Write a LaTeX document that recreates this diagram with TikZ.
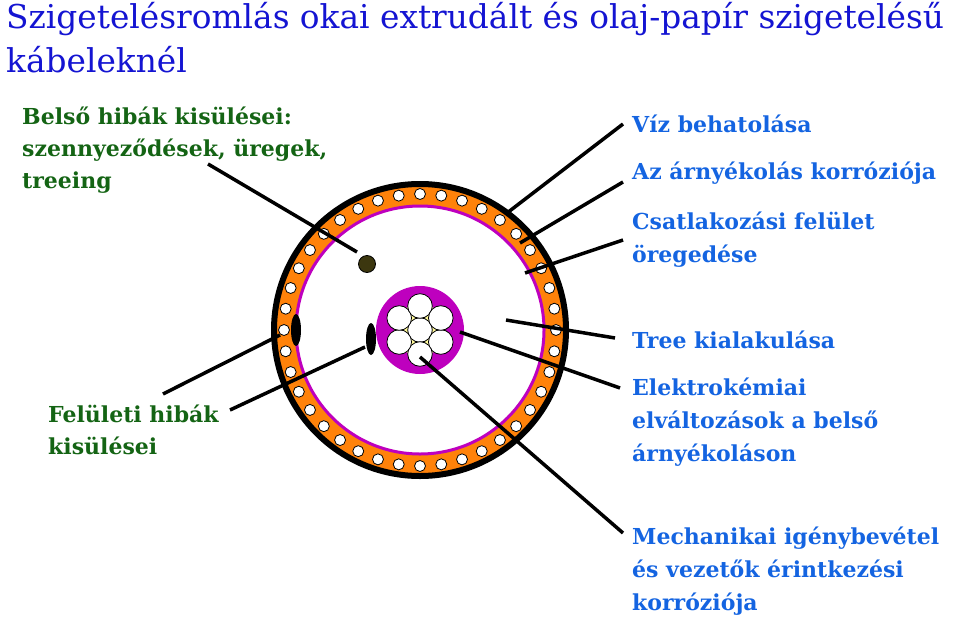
\documentclass[tikz,border=0pt]{standalone}
\usepackage{fontspec}
\setmainfont{DejaVu Serif}
\usetikzlibrary{positioning,calc}
\definecolor{titleblue}{RGB}{20,20,210}
\definecolor{labelblue}{RGB}{20,100,225}
\definecolor{labelgreen}{RGB}{20,100,20}
\definecolor{sheath}{RGB}{255,130,10}
\definecolor{screen}{RGB}{190,0,190}
\definecolor{dirt}{RGB}{60,55,15}
\tikzset{
  blabel/.style={anchor=west,inner sep=0pt,align=left,text=labelblue,
    font=\fontsize{22}{33}\selectfont\bfseries},
  glabel/.style={anchor=west,inner sep=0pt,align=left,text=labelgreen,
    font=\fontsize{22}{32}\selectfont\bfseries},
  pointer/.style={line width=3.5pt,black}
}
\begin{document}
\begin{tikzpicture}[x=1pt,y=-1pt]
  \useasboundingbox (0,0) rectangle (960,621);
  \pgfmathsetmacro\rstep{24}   % strand spacing

% title
  \node[anchor=north west,inner sep=0pt,align=left,text=titleblue,
        font=\fontsize{32.8}{44}\selectfont] (title) at (6,2)
        {Szigetelésromlás okai extrudált és olaj-papír szigetelésű\\kábeleknél};

% cable cross-section
  \coordinate (c) at (420,330);
  \fill[sheath] (c) circle (147);
  \draw[line width=6pt] (c) circle (146);
  \fill[white] (c) circle (124);
  \draw[screen,line width=3pt] (c) circle (124);
  \foreach \a in {0,9,...,351}
    \draw[fill=white,line width=0.8pt] ($(c)+(\a:136)$) circle (5.5);
  \fill[screen] (c) circle (44);
  \fill[yellow!40] (c) circle (26);
  \draw[fill=white,line width=0.8pt] (c) circle (12.3);
  \foreach \a in {30,90,...,330}
    \draw[fill=white,line width=0.8pt] ($(c)+(\a:\rstep)$) circle (12.3);

% faults
  \draw[fill=dirt,line width=0.8pt] (367,264) circle (8.5);
  \fill (296,330) ellipse (5 and 16);
  \fill (371,339) ellipse (5 and 16);

% labels at left
  \node[glabel] (inner) at (22,150) {Belső hibák kisülései:\\szennyeződések, üregek,\\treeing};
  \node[glabel] (surface) at (48,430) {Felületi hibák\\kisülései};

% labels at right
  \node[blabel] (water) at (632,124) {Víz behatolása};
  \node[blabel] (corr) at (632,173) {Az árnyékolás korróziója};
  \node[blabel] (iface) at (632,240) {Csatlakozási felület\\öregedése};
  \node[blabel] (tree) at (632,340) {Tree kialakulása};
  \node[blabel] (electro) at (632,422) {Elektrokémiai\\elváltozások a belső\\árnyékoláson};
  \node[blabel] (mech) at (632,571) {Mechanikai igénybevétel\\és vezetők érintkezési\\korróziója};

% pointers
  \coordinate (p1) at (208,164);  \coordinate (q1) at (357,252);
  \coordinate (p2) at (163,394);  \coordinate (q2) at (280,335);
  \coordinate (p3) at (230,410);  \coordinate (q3) at (365,347);
  \coordinate (p4) at (623,124);  \coordinate (q4) at (507,213);
  \coordinate (p5) at (623,182);  \coordinate (q5) at (520,243);
  \coordinate (p6) at (623,240);  \coordinate (q6) at (525,273);
  \coordinate (p7) at (615,338);  \coordinate (q7) at (506,320);
  \coordinate (p8) at (620,388);  \coordinate (q8) at (460,332);
  \coordinate (p9) at (623,533);  \coordinate (q9) at (420,357);
  \foreach \i in {1,...,9}
    \draw[pointer] (p\i) -- (q\i);

\end{tikzpicture}
\end{document}
